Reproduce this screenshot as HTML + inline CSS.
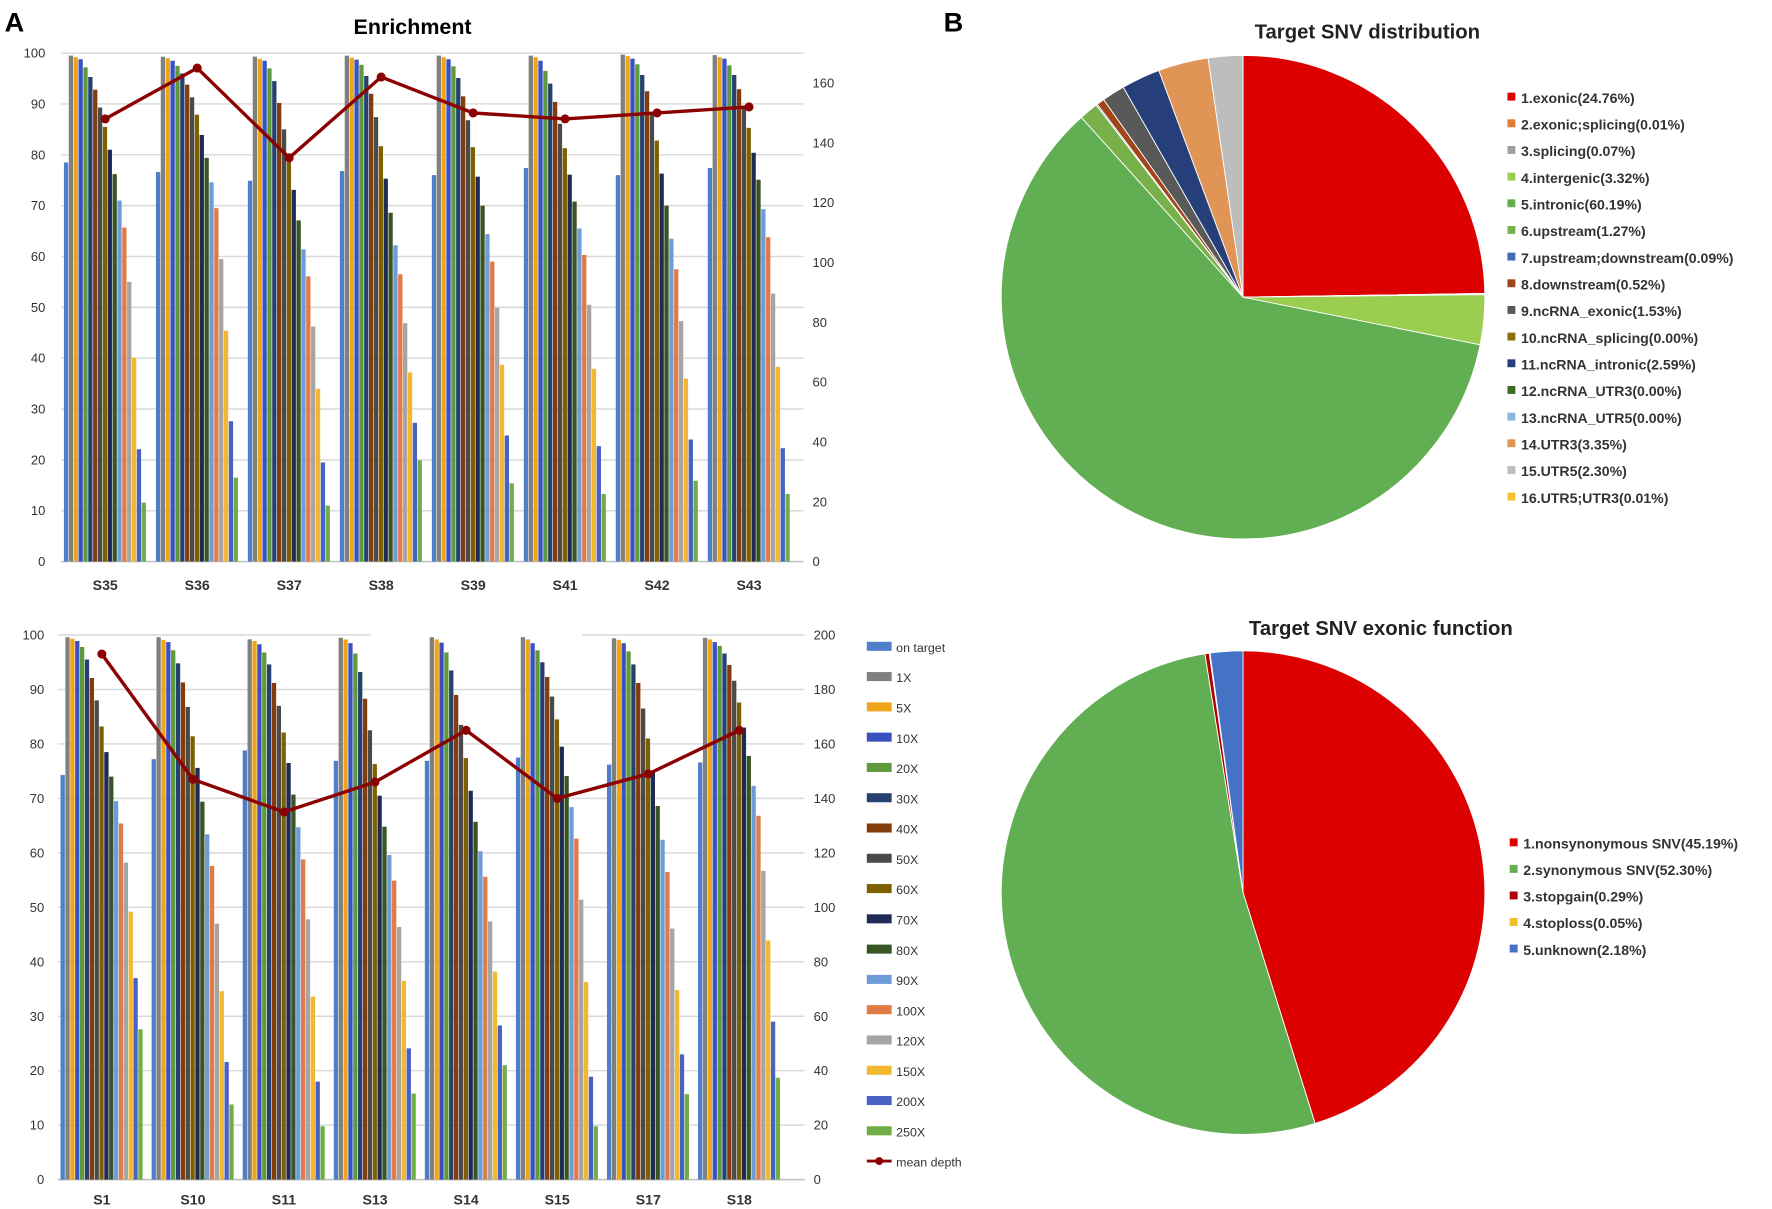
<!DOCTYPE html>
<html><head><meta charset="utf-8"><style>
html,body{margin:0;padding:0;background:#fff;}
svg{display:block;font-family:"Liberation Sans",sans-serif;}
</style></head><body>
<svg id="s" width="1772" height="1209" viewBox="0 0 1568 1070" xmlns="http://www.w3.org/2000/svg"></svg>
<script>
const S=document.getElementById('s');let h='';
const cols=['#4F7FC8','#808080','#F0A41A','#3A52C0','#5E9A3C','#26416F','#843C0C','#4A4A4A','#7F6000','#1F2A55','#375623','#6F9BD8','#E07B45','#A5A5A5','#F4B830','#4762C4','#70AD47'];
const names=['on target','1X','5X','10X','20X','30X','40X','50X','60X','70X','80X','90X','100X','120X','150X','200X','250X'];
function chart(o){
 const {y0,y100,xl,xr,lblX,rlblX,cats,centers,data,mean,rmax,rstep,catY}=o;
 const sy=v=>y0-(y0-y100)*v/100, ry=v=>y0-(y0-y100)*v/rmax;
 for(let v=0;v<=100;v+=10){const y=sy(v);
  if(!(o.gap&&v==100))h+=`<line x1="${xl}" x2="${xr}" y1="${y}" y2="${y}" stroke="#d9d9d9" stroke-width="1.3"/>`;
  h+=`<text x="${lblX}" y="${y+4}" font-size="11.5" text-anchor="end" fill="#333">${v}</text>`;}
 if(o.gap){h+=`<line x1="${xl}" x2="328" y1="${y100}" y2="${y100}" stroke="#d9d9d9" stroke-width="1.3"/><line x1="515" x2="${xr}" y1="${y100}" y2="${y100}" stroke="#d9d9d9" stroke-width="1.3"/>`;}
 for(let v=0;v<=rmax;v+=rstep){h+=`<text x="${rlblX}" y="${ry(v)+4}" font-size="11.5" fill="#333">${v}</text>`;}
 h+=`<line x1="${xl}" x2="${xr}" y1="${y0}" y2="${y0}" stroke="#bfbfbf" stroke-width="1.3"/>`;
 const bw=4.3;
 cats.forEach((c,i)=>{const st=centers[i]-bw*17/2;
  data[i].forEach((v,j)=>{h+=`<rect x="${st+j*bw}" y="${sy(v)}" width="${bw-0.5}" height="${y0-sy(v)}" fill="${cols[j]}"/>`;});
  h+=`<text x="${centers[i]}" y="${catY}" font-size="12.5" font-weight="bold" text-anchor="middle" fill="#333">${c}</text>`;});
 let p=mean.map((m,i)=>`${centers[i]},${ry(m)}`).join(' ');
 h+=`<polyline points="${p}" fill="none" stroke="#8B0000" stroke-width="3"/>`;
 mean.forEach((m,i)=>h+=`<circle cx="${centers[i]}" cy="${ry(m)}" r="4" fill="#8B0000"/>`);
}
h+=`<text x="4" y="28" font-size="24" font-weight="bold">A</text><text x="835" y="28" font-size="24" font-weight="bold">B</text>`;
h+=`<text x="365" y="30" font-size="19" font-weight="bold" text-anchor="middle">Enrichment</text>`;
const c1=[],c2=[];for(let i=0;i<8;i++){c1.push(93+i*81.4);c2.push(90+i*80.6);}
chart({y0:497,y100:47,xl:54,xr:711,lblX:40,rlblX:719,catY:522,rmax:170,rstep:20,
 cats:['S35','S36','S37','S38','S39','S41','S42','S43'],centers:c1,
 data:[[78.5,99.5,99.2,98.8,97.2,95.3,92.8,89.3,85.5,81,76.2,71,65.7,55,40.1,22.1,11.6],
 [76.6,99.3,99,98.5,97.5,96,93.8,91.3,87.9,83.9,79.4,74.6,69.5,59.5,45.4,27.6,16.5],
 [74.9,99.3,98.9,98.5,97,94.5,90.2,85,79,73.1,67.1,61.4,56.1,46.2,34,19.5,11],
 [76.8,99.5,99.1,98.7,97.7,95.5,92,87.4,81.7,75.3,68.6,62.2,56.5,46.9,37.2,27.3,19.9],
 [76,99.5,99.2,98.8,97.4,95.1,91.5,86.8,81.5,75.7,70,64.4,59,49.9,38.7,24.8,15.4],
 [77.4,99.5,99.2,98.5,96.5,94,90.4,86.1,81.3,76.1,70.8,65.5,60.3,50.5,37.9,22.7,13.3],
 [76,99.7,99.4,98.9,97.8,95.7,92.5,88,82.8,76.3,70,63.5,57.5,47.3,36,24,15.9],
 [77.4,99.6,99.2,98.9,97.6,95.7,92.9,89.5,85.3,80.4,75.1,69.3,63.8,52.7,38.3,22.3,13.3]],
 mean:[148,165,135,162,150,148,150,152]});
chart({y0:1044,y100:562,xl:51,xr:712,lblX:39,rlblX:720,catY:1066,rmax:200,rstep:20,gap:true,
 cats:['S1','S10','S11','S13','S14','S15','S17','S18'],centers:c2,
 data:[[74.3,99.6,99.3,98.9,97.8,95.5,92.1,88,83.2,78.5,74,69.5,65.4,58.2,49.2,37,27.6],
 [77.2,99.6,99.1,98.7,97.2,94.8,91.3,86.8,81.4,75.6,69.4,63.4,57.6,47,34.6,21.6,13.8],
 [78.8,99.2,98.9,98.3,96.8,94.6,91.2,87,82.1,76.5,70.7,64.7,58.8,47.8,33.6,18,9.8],
 [76.9,99.5,99.2,98.5,96.6,93.2,88.3,82.5,76.3,70.5,64.8,59.6,54.9,46.4,36.5,24.1,15.8],
 [76.9,99.6,99.2,98.6,96.8,93.5,89,83.5,77.4,71.4,65.7,60.3,55.6,47.4,38.2,28.3,21],
 [77.5,99.6,99.2,98.5,97.2,95,92.3,88.7,84.5,79.5,74.1,68.4,62.6,51.4,36.3,18.9,9.8],
 [76.2,99.4,99.1,98.5,97,94.6,91.2,86.5,81,74.8,68.6,62.4,56.5,46.1,34.8,23,15.7],
 [76.6,99.5,99.2,98.7,98,96.6,94.5,91.6,87.6,83,77.8,72.3,66.8,56.7,43.9,29,18.7]],
 mean:[193,147,135,146,165,140,149,165]});
for(let i=0;i<18;i++){const y=573+i*26.8;
 if(i<17){h+=`<rect x="767" y="${y-5}" width="22" height="8" fill="${cols[i]}"/><text x="793" y="${y+4}" font-size="11" fill="#333">${names[i]}</text>`;}
 else{h+=`<line x1="767" x2="789" y1="${y-1}" y2="${y-1}" stroke="#8B0000" stroke-width="2.5"/><circle cx="778" cy="${y-1}" r="3.5" fill="#8B0000"/><text x="793" y="${y+4}" font-size="11" fill="#333">mean depth</text>`;}}
function pie(cx,cy,r,vals,pc){let a=-Math.PI/2;const tot=vals.reduce((x,y)=>x+y,0);
 vals.forEach((v,i)=>{if(v<=0)return;const b=a+2*Math.PI*v/tot;
  const x1=cx+r*Math.cos(a),y1=cy+r*Math.sin(a),x2=cx+r*Math.cos(b),y2=cy+r*Math.sin(b);
  h+=`<path d="M${cx},${cy}L${x1},${y1}A${r},${r} 0 ${b-a>Math.PI?1:0} 1 ${x2},${y2}Z" fill="${pc[i]}" stroke="#fff" stroke-width="0.8"/>`;a=b;});}
const p1c=['#DD0000','#E07B39','#A0A0A0','#9ACD50','#62AE52','#78B04A','#3F6DB5','#A0461A','#595959','#8B6E0E','#263F7A','#3D6B24','#8EB4E3','#E09456','#BDBDBD','#F2C12E'];
const p1v=[24.76,0.01,0.07,3.32,60.19,1.27,0.09,0.52,1.53,0,2.59,0,0,3.35,2.30,0.01];
const p1n=['1.exonic(24.76%)','2.exonic;splicing(0.01%)','3.splicing(0.07%)','4.intergenic(3.32%)','5.intronic(60.19%)','6.upstream(1.27%)','7.upstream;downstream(0.09%)','8.downstream(0.52%)','9.ncRNA_exonic(1.53%)','10.ncRNA_splicing(0.00%)','11.ncRNA_intronic(2.59%)','12.ncRNA_UTR3(0.00%)','13.ncRNA_UTR5(0.00%)','14.UTR3(3.35%)','15.UTR5(2.30%)','16.UTR5;UTR3(0.01%)'];
h+=`<text x="1210" y="34" font-size="18" font-weight="bold" text-anchor="middle" fill="#222">Target SNV distribution</text>`;
pie(1100,263,214,p1v,p1c);
p1n.forEach((n,i)=>{const y=86+i*23.6;h+=`<rect x="1334" y="${y-4}" width="7" height="7" fill="${p1c[i]}"/><text x="1346" y="${y+5}" font-size="12.5" font-weight="bold" fill="#333">${n}</text>`;});
const p2c=['#DD0000','#62AE52','#B00000','#F2C12E','#4472C4'];
const p2v=[45.19,52.30,0.29,0.05,2.18];
const p2n=['1.nonsynonymous SNV(45.19%)','2.synonymous SNV(52.30%)','3.stopgain(0.29%)','4.stoploss(0.05%)','5.unknown(2.18%)'];
h+=`<text x="1222" y="562" font-size="18" font-weight="bold" text-anchor="middle" fill="#222">Target SNV exonic function</text>`;
pie(1100,790,214,p2v,p2c);
p2n.forEach((n,i)=>{const y=746+i*23.5;h+=`<rect x="1336" y="${y-4}" width="7" height="7" fill="${p2c[i]}"/><text x="1348" y="${y+5}" font-size="12.5" font-weight="bold" fill="#333">${n}</text>`;});
S.innerHTML=h;
</script>
</body></html>
